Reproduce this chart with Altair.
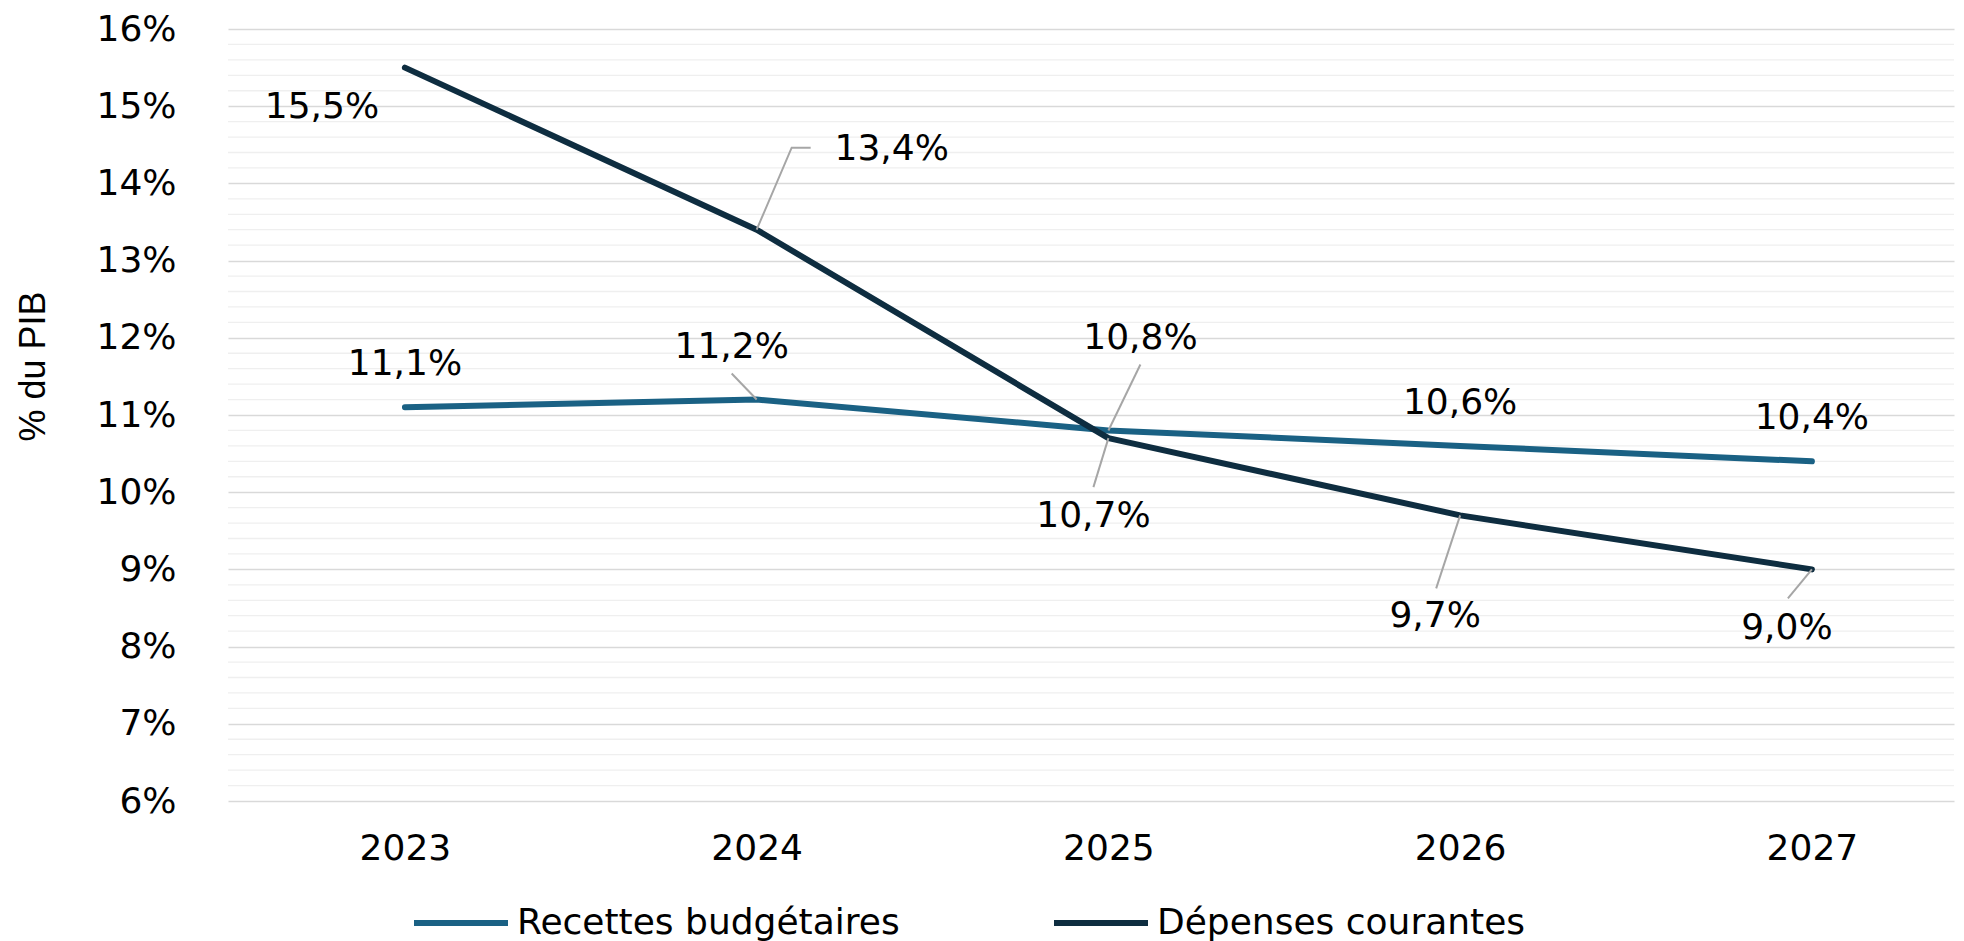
import altair as alt
import pandas as pd

# ---- data ----
years = [2023, 2024, 2025, 2026, 2027]
recettes = [11.1, 11.2, 10.8, 10.6, 10.4]
depenses = [15.5, 13.4, 10.7, 9.7, 9.0]
series_names = ["Recettes budgétaires", "Dépenses courantes"]
y_major = [6, 7, 8, 9, 10, 11, 12, 13, 14, 15, 16]

# ---- styling / layout ----
series_colors = ["#1a6184", "#0e2d40"]
FONT = "DejaVu Sans"
W, H = 1726, 772
X_DOMAIN = [2022.497, 2027.404]
Y_DOMAIN = [6, 16]
PX_PER_YEAR = W / (X_DOMAIN[1] - X_DOMAIN[0])
PX_PER_PCT = H / (Y_DOMAIN[1] - Y_DOMAIN[0])

# label offsets (pixels) per series, per year
label_offsets = {
    series_names[0]: [(0, -43), (-25, -53), (32, -92), (0, -43), (0, -43)],
    series_names[1]: [(-83, 39), (135, -81), (-15, 78), (-25, 101), (-25, 59)],
}
# leader polylines (pixel offsets from the data point, ending at the point)
leaders = {
    (series_names[0], 2024): [(-25, -26), (0, 0)],
    (series_names[0], 2025): [(32, -66), (0, 0)],
    (series_names[1], 2024): [(54, -82), (35, -82), (0, 0)],
    (series_names[1], 2025): [(-15, 49), (0, 0)],
    (series_names[1], 2026): [(-24, 73), (0, 0)],
    (series_names[1], 2027): [(-24, 29), (0, 0)],
}

rows = []
for s, vals in zip(series_names, [recettes, depenses]):
    for yr, v in zip(years, vals):
        rows.append({"year": yr, "value": v, "series": s})
df = pd.DataFrame(rows)

lead_rows = []
lookup = {(r["series"], r["year"]): r["value"] for r in rows}
for k, (key, pts) in enumerate(leaders.items()):
    s, yr = key
    v = lookup[key]
    for i, (px, py) in enumerate(pts):
        lead_rows.append({"lid": k, "ord": i,
                          "x": yr + px / PX_PER_YEAR,
                          "y": v - py / PX_PER_PCT})
lead_df = pd.DataFrame(lead_rows)

minor_ticks = [round(Y_DOMAIN[0] + 0.2 * i, 1) for i in range(51)]
minor_only = [t for t in minor_ticks if abs(t - round(t)) > 0.01]
minor_df = pd.DataFrame({"g": minor_only})

x_scale = alt.Scale(domain=X_DOMAIN, nice=False, zero=False)
y_scale = alt.Scale(domain=Y_DOMAIN, nice=False, zero=False)

x_axis = alt.Axis(values=years, format="d", grid=False, domain=False,
                  ticks=False, labelFontSize=36, labelFont=FONT,
                  labelColor="#000000", labelPadding=30, title=None,
                  labelFlush=False, labelOverlap=False)
y_axis = alt.Axis(values=y_major, labelExpr="datum.value + '%'",
                  gridColor="#d9d9d9", gridWidth=1.6,
                  labelOverlap=False,
                  domain=False, ticks=False, labelFontSize=36,
                  labelFont=FONT, labelColor="#000000", labelPadding=52,
                  title="% du PIB", titleFont="Liberation Sans",
                  titleFontSize=36, titleFontWeight="normal",
                  titleColor="#000000", titleAngle=270,
                  titleAlign="center", titleBaseline="middle",
                  titleX=-195, titleY=337)

base = alt.Chart(df)

minor = alt.Chart(minor_df).mark_rule(color="#efefef", strokeWidth=1.3).encode(
    y=alt.Y("g:Q", scale=y_scale, axis=y_axis),
)

lines = base.mark_line(strokeWidth=6, strokeCap="round", strokeJoin="round").encode(
    x=alt.X("year:Q", scale=x_scale, axis=x_axis),
    y=alt.Y("value:Q", scale=y_scale, axis=y_axis),
    color=alt.Color("series:N", sort=series_names,
                    scale=alt.Scale(domain=series_names, range=series_colors),
                    legend=alt.Legend(title=None, orient="none", direction="horizontal",
                                      legendX=183, legendY=844,
                                      symbolType="stroke", symbolSize=8836,
                                      symbolStrokeWidth=6, labelFontSize=36,
                                      labelFont=FONT, labelColor="#000000",
                                      labelLimit=700, labelOffset=6,
                                      columnPadding=142)),
    order=alt.Order("year:Q"),
)

lead = alt.Chart(lead_df).mark_line(color="#a6a6a6", strokeWidth=2).encode(
    x=alt.X("x:Q", scale=x_scale, axis=x_axis),
    y=alt.Y("y:Q", scale=y_scale, axis=y_axis),
    detail="lid:N",
    order="ord:Q",
)

texts = []
for s in series_names:
    for yr, (dx, dy) in zip(years, label_offsets[s]):
        t = base.transform_filter(
            (alt.datum.series == s) & (alt.datum.year == yr)
        ).transform_calculate(
            lab="replace(format(datum.value, '.1f'), '.', ',') + '%'"
        ).mark_text(font=FONT, fontSize=36, color="#000000", dx=dx, dy=dy,
                    align="center", baseline="middle").encode(
            x=alt.X("year:Q", scale=x_scale, axis=x_axis),
            y=alt.Y("value:Q", scale=y_scale, axis=y_axis),
            text="lab:N")
        texts.append(t)

chart = alt.layer(minor, lines, lead, *texts).properties(
    width=W, height=H, background="#ffffff",
    padding={"left": 7, "top": 3, "right": 0, "bottom": 0},
).configure_view(stroke=None)

chart.save("out.html", embed_options={"renderer": "svg", "actions": False})
